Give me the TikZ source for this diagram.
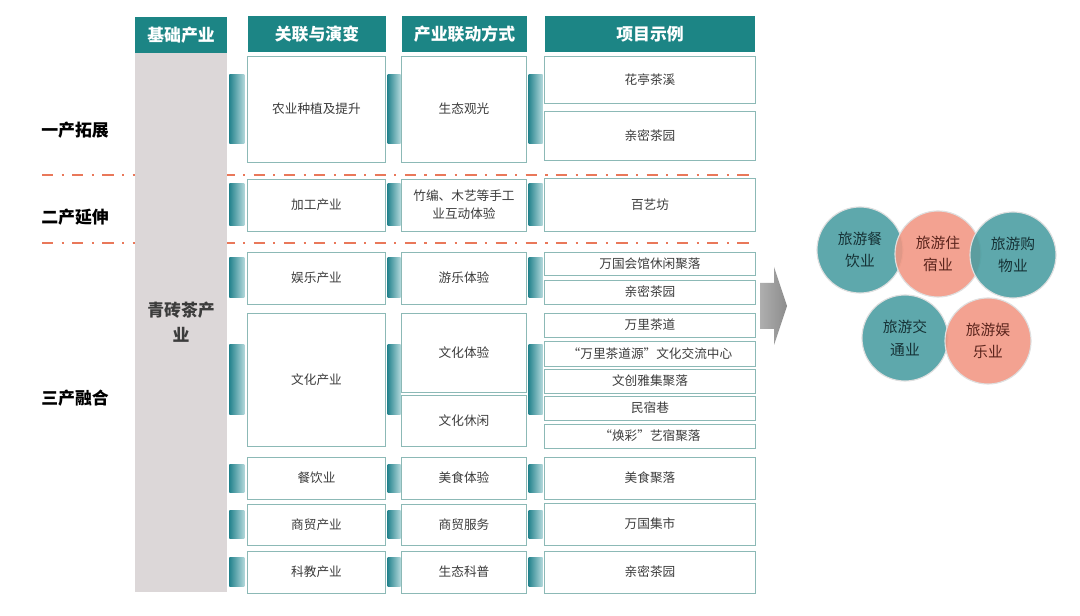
\documentclass[tikz,border=0pt]{standalone}
\usepackage{fontspec}
\setmainfont{Noto Sans CJK SC}
\usepackage{tikz,xcolor}
\usetikzlibrary{calc}

\definecolor{hdteal}{RGB}{28,133,133}
\definecolor{boxline}{RGB}{140,185,182}
\definecolor{txtgray}{RGB}{60,60,60}
\definecolor{basegray}{RGB}{220,215,216}
\definecolor{tabdark}{RGB}{38,132,142}
\definecolor{tablight}{RGB}{178,216,219}
\definecolor{seporange}{RGB}{233,120,90}
\definecolor{arrowgray}{RGB}{140,140,140}
\definecolor{cteal}{RGB}{72,157,161}
\definecolor{csalmon}{RGB}{242,150,130}
\definecolor{ctealtxt}{RGB}{22,50,54}
\definecolor{csalmontxt}{RGB}{90,36,28}

\begin{document}
\begin{tikzpicture}[x=0.025cm, y=-0.025cm,
		box/.style={draw=boxline, fill=white, line width=0.7pt, inner sep=0pt, align=center, text=txtgray, font=\fontsize{9}{13}\selectfont},
		head/.style={fill=hdteal, inner sep=0pt, minimum height=0.9cm, text=white, font=\fontsize{12}{14}\selectfont\bfseries},
		tab/.style={left color=tabdark, right color=tablight},
		sector/.style={font=\fontsize{12}{14}\selectfont\bfseries},
		sepline/.style={draw=seporange, line width=1.3pt, dash pattern=on 8pt off 6pt on 1.5pt off 6pt},
		ring/.style={circle, minimum size=2.15cm, inner sep=0pt, align=center, draw=white!75!gray, line width=0.8pt, fill opacity=0.88, text opacity=1, font=\fontsize{10.5}{16}\selectfont}]
	\useasboundingbox[fill=white] (0,0) rectangle (1080,616);
	% dividers behind the base column
	\draw[sepline] (42,175) -- (750,175);
	\draw[sepline] (42,243) -- (750,243);
	% headers
	\node[head, minimum width=2.3cm] (hbase) at (181,35) {基础产业};
	\node[head, minimum width=3.45cm] (hlink) at (317,34) {关联与演变};
	\node[head, minimum width=3.125cm] (hmode) at (464.5,34) {产业联动方式};
	\node[head, minimum width=5.25cm] (hcase) at (650,34) {项目示例};
	\node[fill=basegray, inner sep=0pt, minimum width=2.3cm, minimum height=13.475cm, align=center, text=txtgray, font=\fontsize{12}{18}\selectfont\bfseries] (base) at (181,322.5) {青砖茶产\\业};
	% sectors
	\node[sector] (s1) at (75,130) {一产拓展};
	\node[sector] (s2) at (75,217) {二产延伸};
	\node[sector] (s3) at (75,398) {三产融合};
	% columns
	\foreach \n/\ya/\yb/\t in {r1/56/162/农业种植及提升, r2/179/231/加工产业, r3/252/304/娱乐产业, r4/313/446/文化产业, r5/457/499/餐饮业, r6/504/545/商贸产业, r7/551/593/科教产业}
		\node[box, minimum width=3.425cm, minimum height={(\yb-\ya)*0.025cm}] (\n) at (316.5,{(\ya+\yb)/2}) {\t};
	\foreach \n/\ya/\yb/\t in {m1/56/162/生态观光, m2/179/231/{竹编、木艺等手工\\业互动体验}, m3/252/304/游乐体验, m4/313/392/文化体验, m5/395/446/文化休闲, m6/457/499/美食体验, m7/504/545/商贸服务, m8/551/593/生态科普}
		\node[box, minimum width=3.1cm, minimum height={(\yb-\ya)*0.025cm}] (\n) at (464,{(\ya+\yb)/2}) {\t};
	\foreach \n/\ya/\yb/\t in {p1/56/103/花亭茶溪, p2/111/160/亲密茶园, p3/178/231/百艺坊, p4/252/275/万国会馆休闲聚落, p5/280/304/亲密茶园, p6/313/337/万里茶道, p7/341/366/“万里茶道源”文化交流中心, p8/369/393/文创雅集聚落, p9/396/420/民宿巷, p10/424/448/“焕彩”艺宿聚落, p11/457/499/美食聚落, p12/503/545/万国集市, p13/551/593/亲密茶园}
		\node[box, minimum width=5.25cm, minimum height={(\yb-\ya)*0.025cm}] (\n) at (650,{(\ya+\yb)/2}) {\t};
	% tabs between the columns
	\foreach \n/\h in {r1/69, r2/42, r3/40, r4/70, r5/28, r6/28, r7/29} {
		\shade[tab] ($(\n.west)+(-18,-\h/2)$) rectangle ($(\n.west)+(-3,\h/2)$);
		\shade[tab] ($(\n.east)+(2,-\h/2)$) rectangle ($(\n.east)+(15,\h/2)$);
		\shade[tab] ($(\n.east)+(143,-\h/2)$) rectangle ($(\n.east)+(157,\h/2)$);
	}
	% arrow
	\shade[left color=arrowgray!70, right color=arrowgray] (760,283) -- (774,283) -- (774,267) -- (787,306) -- (774,345) -- (774,329) -- (760,329) -- cycle;
	% tourism circles
	\node[ring, fill=cteal, text=ctealtxt] (dine) at (860,250) {旅游餐\\饮业};
	\node[ring, fill=csalmon, text=csalmontxt] (stay) at (938,254) {旅游住\\宿业};
	\node[ring, fill=cteal, text=ctealtxt] (shop) at (1013,255) {旅游购\\物业};
	\node[ring, fill=cteal, text=ctealtxt] (trans) at (905,338) {旅游交\\通业};
	\node[ring, fill=csalmon, text=csalmontxt] (play) at (988,341) {旅游娱\\乐业};
\end{tikzpicture}
\end{document}
